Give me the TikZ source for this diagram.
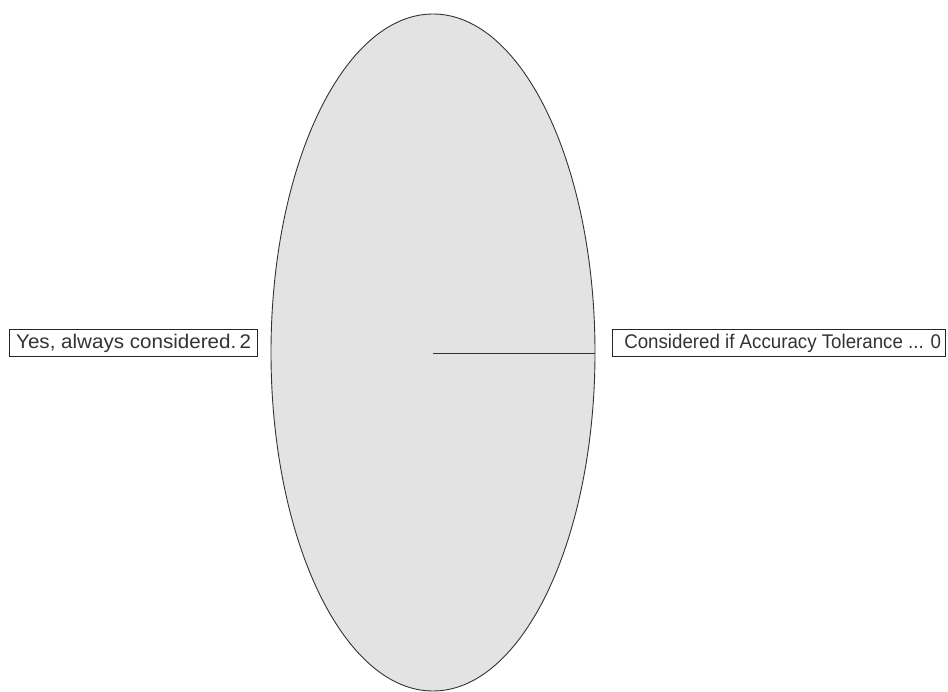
\documentclass[tikz,border=0pt]{standalone}
\usepackage{fontspec}
\setmainfont{Liberation Sans}
\usetikzlibrary{shapes.geometric}
\begin{document}
\begin{tikzpicture}[x=1pt,y=-1pt,
  lbl/.style={draw=black!85,line width=1.4pt,fill=white,text=black!80,font=\fontsize{19.8}{22}\selectfont,inner sep=0pt,minimum height=27pt,anchor=north west}]
\useasboundingbox (0,0) rectangle (948,692);
\fill[white] (0,0) rectangle (948,692);
\node[draw=black!80,line width=0.9pt,fill=black!11,ellipse,minimum width=324pt,minimum height=677pt,inner sep=0pt] (ell) at (433,352.5) {};
\coordinate (c) at (433,354);
\coordinate (r) at (595,354);
\draw[line width=1pt,black!80] (c) -- (r);
\node[lbl,minimum width=248pt] (left) at (9,329) {\scalebox{1.04}[1]{Yes, always considered.\,2}};
\node[lbl,minimum width=333pt] (right) at (612,329) {\hspace*{7pt}\scalebox{0.945}[1]{Considered if Accuracy Tolerance ... 0}};
\end{tikzpicture}
\end{document}
